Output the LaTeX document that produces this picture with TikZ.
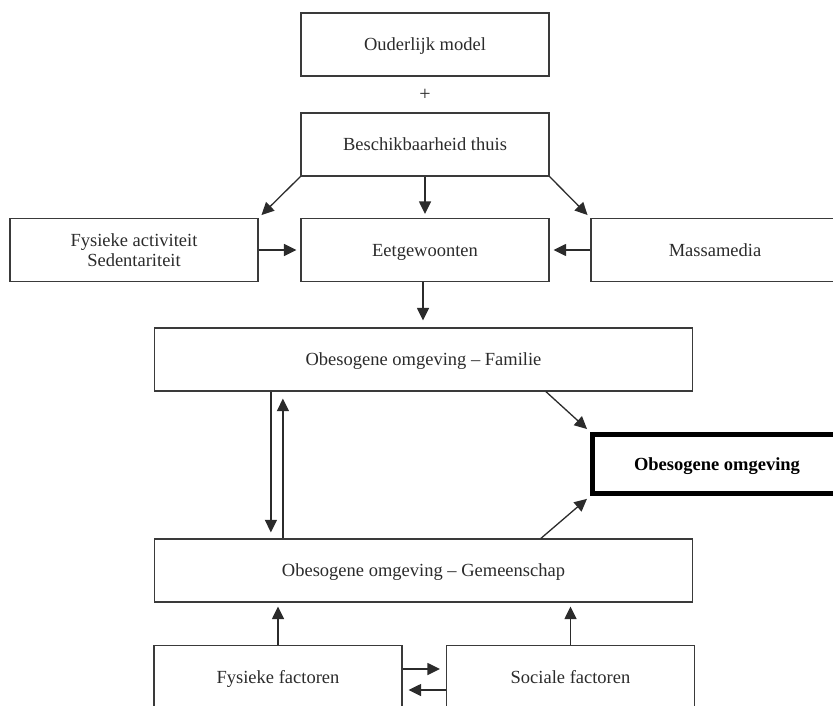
\documentclass[tikz,border=0pt]{standalone}
\usepackage{fontspec}
\setmainfont{Liberation Serif}
\usetikzlibrary{arrows.meta}
\definecolor{ink}{HTML}{2B2B2B}
\definecolor{boxline}{HTML}{3A3A3A}
\begin{document}
\begin{tikzpicture}[x=1pt,y=-1pt,
  box/.style={draw=boxline, line width=1.2pt, minimum width=248pt, minimum height=63pt,
    inner sep=0pt, align=center, font=\fontsize{18.5}{20}\selectfont, text=ink,
    text height=12.2pt, text depth=0pt},
  twoline/.style={box, text height=32pt},
  widebox/.style={box, minimum width=538pt},
  mainbox/.style={box, draw=black, line width=5pt, minimum width=249pt, minimum height=59.5pt,
    font=\fontsize{18.5}{20}\selectfont\bfseries, text=black},
  arr/.style={draw=ink, line width=1.3pt, -{Triangle[length=12.5pt,width=12pt]}, shorten >=4pt}]
\useasboundingbox (0,0) rectangle (833,706);
\clip (0,0) rectangle (833,706);

\node[box] (om) at (425,44.5) {Ouderlijk model};
\node[text=ink, font=\fontsize{20}{22}\selectfont] (plus) at (425,95) {+};
\node[box] (bt) at (425,144.5) {Beschikbaarheid thuis};
\node[twoline] (fa) at (134,250) {Fysieke activiteit\\[-0.3pt]Sedentariteit};
\node[box] (eet) at (425,250) {Eetgewoonten};
\node[box] (mm) at (715,250) {Massamedia};
\node[widebox] (fam) at (423.5,359.5) {Obesogene omgeving -- Familie};
\node[mainbox] (obo) at (717,464) {Obesogene omgeving};
\node[widebox] (gem) at (423.5,570.5) {Obesogene omgeving -- Gemeenschap};
\node[box] (ff) at (278,677) {Fysieke factoren};
\node[box] (sf) at (570.5,677) {Sociale factoren};

\draw[arr] (bt.south west) -- (fa.north east);
\draw[arr] (bt.south) -- (eet.north);
\draw[arr] (bt.south east) -- (mm.north west);
\draw[arr] (fa.east) -- (eet.west);
\draw[arr] (mm.west) -- (eet.east);
\draw[arr, shorten >=7pt] ([xshift=-2pt]eet.south) -- ([xshift=-2pt]eet.south |- fam.north);
\draw[arr, shorten >=6pt] ([xshift=117pt]fam.south west) -- ([xshift=117pt]fam.south west |- gem.north);
\draw[arr, shorten >=7pt] ([xshift=129pt]gem.north west) -- ([xshift=129pt]gem.north west |- fam.south);
\draw[arr, shorten >=4pt] ([xshift=392pt]fam.south west) -- (obo.north west);
\draw[arr, shorten >=4pt] ([xshift=387pt]gem.north west) -- (obo.south west);
\draw[arr] (ff.north) -- (ff.north |- gem.south);
\draw[arr] (sf.north) -- (sf.north |- gem.south);
\draw[arr, shorten >=6pt] ([yshift=8pt]ff.east) -- ([yshift=8pt]ff.east -| sf.west);
\draw[arr, shorten >=6pt] ([yshift=-13pt]sf.west) -- ([yshift=-13pt]sf.west -| ff.east);
\end{tikzpicture}
\end{document}
